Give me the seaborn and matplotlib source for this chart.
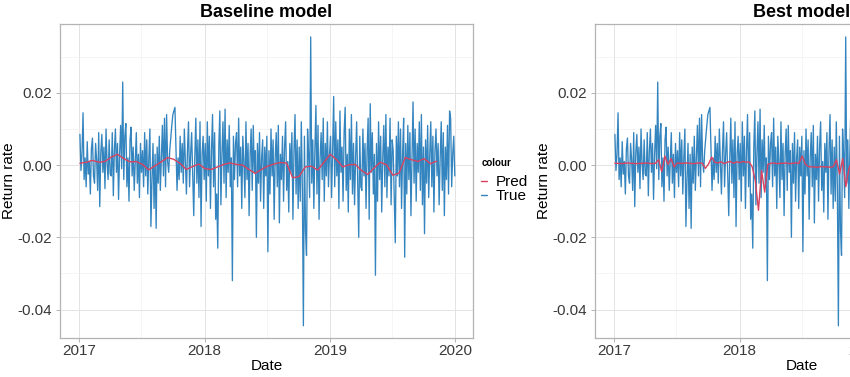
import numpy as np
import pandas as pd
import matplotlib
matplotlib.use("Agg")
import matplotlib.pyplot as plt
import matplotlib.dates as mdates
from matplotlib.lines import Line2D
from matplotlib.ticker import MultipleLocator, FuncFormatter
import seaborn as sns

# ---------------- data (return rates in per-mille) -------------
true_2017q1 = [8.5, -1.5, 3, 14.5, -4, 2, -6, 6.5, -2.5, 1, -8, 4.5, 7.5, -3, -5, 6, 1.5, -7, 9, -11.5,
               3.5, 8.5, -2, 5, -6.5, 10, 0.5, -4, 7, -2.5]
true_2017q2 = [-3, 9, -8.5, 4, 10, -2, 6, -9.5, 3, 11, -1, 23, -4, 8, 11.5, -6, 2, -10, 7, 10.5,
               -3, 5, -7, 1, 9, -5, 3, -9, 6, -2]
true_2017q3 = [4, -6, 9, -3, 7, -8, 2, 10, -17, -4, 6, -12, 3, -17.5, 5, -5, 8, -7, 2, 11,
               -3, 13, -6, 14, 1, -2, 4, 7.5, 11, 14]
true_2017q4 = [15, 16, 5, -7, 2, -4, 8, -2, 6, -5, 10, 1, -8, 4, 12, -6, 3, 9, -3, -14,
               2, 13, -5, 7, -9, 12, -17, 3, 8, -4]
true_2018q1 = [6, -10, 12, -3, 8, -12, 4, 14, -6, 9, -15, -8, -23, 5, 15, -11, 3, 12, -5, 15.5,
               -9, 7, -2, 11, -6, 2, -32, 8, -4, 6]
true_2018q2 = [9, -6, 13, -3, 5, -12, 8, 1, -9, 12, -4, 6, -14, 3, 10, -7, 11, -2, 4, -20,
               6, -5, 9, -10, 2, 7, -12, 5, -3, 8]
true_2018q3 = [-24, 4, -8, 10, -3, 7, -15, 2, 9, -6, 11, -16, 3, -4, 8, -10, 5, 12, -7, 1,
               -13, 6, -2, 9, -15, 4, 14, -8, 7, -12]
true_2018q4 = [5, -10, 12, -6, -44.5, 8, -18, -25, 10, 3, -9, 35.5, -5, 7, -12, 4, 16.5, -8, 11, -15,
               2, 9, -4, 13, -10, 6, -3, 12, -6, 3]
true_2019q1 = [8, -9, 4, 19, -6, 12, -3, 7, -12, 15, -2, 5, -10, 9, 16, -7, 3, -13, 10, -4,
               14, -8, 6, -11, 2, 12, -5, -20, 8, -6]
true_2019q2 = [-7, 10, -3, 6, -12, 4, 13, -15, 17, -2, 9, -8, 3, -30.5, 6, -10, 12, -4, 8, -13,
               2, 11, -6, 14, -9, 5, -3, 13, -11, 7]
true_2019q3 = [4, -9, -21.5, 8, -3, 12, -6, 10, -12, 3, 13, -25.5, 6, -8, 11, -4, 9, -14, 2, 17.5,
               -5, 10, -10, 6, -2, 12, -7, 14, -11, 5]
true_2019q4 = [-19, 7, -5, 11, -9, 3, 12, -6, 8, -13, 4, 10, -3, 6, -11, 2, 12, -7, 9, -14,
               5, -4, 11, -8, 15, 13, -6, 3, 8, -3]

pred_baseline = [0.5, 0.8, 1.3, 0.8, 1.0, 2.2, 3.0, 1.8, 0.9, 1.0, 0.2, -1.3, -0.2, 0.9, 2.1, 1.6,
                 0.5, -1.2, -0.4, 0.3, -1.0, -1.2, -0.5, 0.2, 0.6, 0.2, 0.0, -1.2, -2.3, -1.2,
                 -0.3, 0.3, 0.7, 0.6, -3.5, -3.2, -0.5, -0.3, -1.4, 0.8, 3.0, 1.5, -0.5, 0.1,
                 0.2, -1.5, -2.6, -0.8, 0.8, 0.1, -2.8, -2.2, 2.1, 1.5, 1.0, 1.8, 0.4, 1.1]

pred_best = [0.5, 0.5, 0.4, 0.5, 0.6, 0.5, 0.5, 0.4, 0.5, 0.5, 0.6, 0.5, 0.4, 0.5,
             1.5, -1.8, 2.5, 0.2, 1.8, -0.5,
             0.6, 0.5, 0.5, 0.6, 0.5, 0.4, 0.5, 0.6, 0.5,
             -0.9, 0.3, 2.2, 0.8,
             0.6, 0.9, 0.4, 0.8, 1.0, 0.5, 0.9, 0.7, 1.0, 0.8, 0.9,
             -0.5, -4.3, -12.5, -1.5, -7.5, 0.2,
             0.5, 0.6, 0.4, 0.5, 0.5, 0.6, 0.4, 0.5, 0.6, 0.5,
             2.5, 0.3,
             -0.4, -0.5, -0.5, -0.6, -0.4, -0.5, -0.5, -0.6, -0.4,
             1.5, -2.5, 1.8, -6.0, -1.0, 1.2, -0.5, 0.3]

titles = ["Baseline model", "Best model"]
legend_labels = ["Pred", "True"]
legend_title = "colour"

true_vals = np.array(true_2017q1 + true_2017q2 + true_2017q3 + true_2017q4 +
                     true_2018q1 + true_2018q2 + true_2018q3 + true_2018q4 +
                     true_2019q1 + true_2019q2 + true_2019q3 + true_2019q4) / 1000.0
true_dates = pd.date_range("2017-01-03", "2019-12-31", periods=len(true_vals))
base_vals = np.array(pred_baseline) / 1000.0
base_dates = pd.date_range("2017-01-03", "2019-11-08", periods=len(base_vals))
best_vals = np.array(pred_best) / 1000.0
best_dates = pd.date_range("2017-01-03", "2018-12-13", periods=len(best_vals))

# ---------------- styling -------------
sns.set_theme(style="white")
plt.rcParams["font.family"] = ["Liberation Sans", "DejaVu Sans"]

TRUE_C = "#3485BF"
PRED_C = "#D9425F"
BORDER = "#B3B3B3"
TXT = "#3A3A3A"

fig = plt.figure(figsize=(8.5, 3.77), dpi=100)
W, H = 850.0, 377.0
ax_l = fig.add_axes([60 / W, 1 - 337.7 / H, 413 / W, (337.7 - 24.3) / H])
ax_r = fig.add_axes([595 / W, 1 - 337.7 / H, 413 / W, (337.7 - 24.3) / H])

panels = [(ax_l, base_dates, base_vals, titles[0]), (ax_r, best_dates, best_vals, titles[1])]
for ax, pdates, pvals, title in panels:
    sns.lineplot(x=true_dates, y=true_vals, ax=ax, color=TRUE_C, linewidth=0.95,
                 estimator=None, sort=False)
    sns.lineplot(x=pdates, y=pvals, ax=ax, color=PRED_C, linewidth=1.0,
                 estimator=None, sort=False)
    ax.set_xlim(pd.Timestamp("2016-11-06"), pd.Timestamp("2020-02-22"))
    ax.set_ylim(-0.0478, 0.039)
    ax.xaxis.set_major_locator(mdates.YearLocator())
    ax.xaxis.set_major_formatter(mdates.DateFormatter("%Y"))
    ax.xaxis.set_minor_locator(mdates.MonthLocator(bymonth=7))
    ax.yaxis.set_major_locator(MultipleLocator(0.02))
    ax.yaxis.set_minor_locator(MultipleLocator(0.01))
    ax.yaxis.set_major_formatter(FuncFormatter(lambda v, p: f"{v:.2f}".replace("-0.00", "0.00")))
    ax.set_axisbelow(True)
    ax.grid(which="major", color="#E3E3E3", linewidth=0.7)
    ax.grid(which="minor", color="#F1F1F1", linewidth=0.5)
    for s in ax.spines.values():
        s.set_color(BORDER)
        s.set_linewidth(0.9)
    ax.tick_params(which="major", length=3, width=0.7, color=BORDER, labelsize=11,
                   labelcolor=TXT, direction="out", bottom=True, left=True)
    ax.tick_params(axis="x", which="major", pad=1.5)
    ax.tick_params(axis="y", which="major", pad=2.5)
    ax.tick_params(which="minor", length=0)
    ax.set_xlabel("Date", fontsize=11, color="black", labelpad=1)
    ax.set_ylabel("Return rate", fontsize=11, color="black", labelpad=1)
    ax.set_title(title, fontsize=13, fontweight="bold", color="black", pad=5)

# legend of the left panel (title drawn as its own text, items below it)
fig.text(482 / W, 1 - 163 / H, legend_title, fontsize=7, fontweight="bold",
         color="black", ha="left", va="center")
handles = [Line2D([0], [0], color=PRED_C, lw=1.0), Line2D([0], [0], color=TRUE_C, lw=1.0)]
fig.legend(handles, legend_labels, loc="upper left",
           bbox_to_anchor=(481 / W, 1 - 175 / H), frameon=False, fontsize=11,
           handlelength=0.4, handletextpad=0.55, labelspacing=0.0,
           borderaxespad=0, borderpad=0, labelcolor="black")

fig.savefig("out.png", dpi=100)
